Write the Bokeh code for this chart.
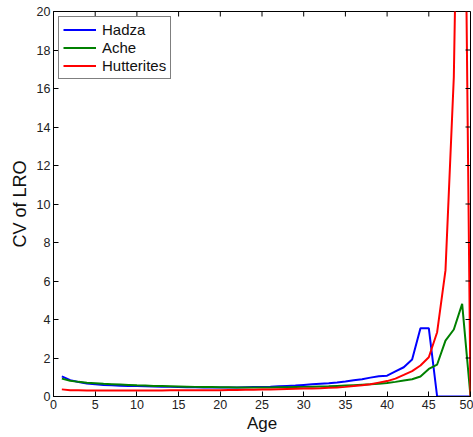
import math
from bokeh.plotting import figure
from bokeh.models import Range1d, Legend, LegendItem, FixedTicker
from bokeh.embed import file_html
from bokeh.resources import INLINE

ages = list(range(1, 51))
hadza = [1.05, 0.85, 0.75, 0.68, 0.63, 0.60, 0.58, 0.56, 0.55, 0.54,
         0.53, 0.52, 0.51, 0.50, 0.49, 0.48, 0.48, 0.47, 0.47, 0.47,
         0.47, 0.47, 0.48, 0.49, 0.50, 0.51, 0.53, 0.55, 0.57, 0.60,
         0.63, 0.66, 0.69, 0.73, 0.78, 0.84, 0.90, 0.98, 1.05, 1.08,
         1.30, 1.52, 1.92, 3.55, 3.55, 0.0, 0.0, 0.0, 0.0, 0.0]
ache = [0.93, 0.82, 0.76, 0.72, 0.69, 0.66, 0.64, 0.62, 0.60, 0.58,
        0.57, 0.55, 0.54, 0.53, 0.52, 0.51, 0.50, 0.49, 0.49, 0.48,
        0.48, 0.47, 0.47, 0.47, 0.47, 0.47, 0.48, 0.48, 0.49, 0.50,
        0.51, 0.52, 0.53, 0.55, 0.57, 0.59, 0.61, 0.63, 0.66, 0.70,
        0.76, 0.83, 0.90, 1.04, 1.43, 1.66, 2.90, 3.48, 4.81, 0.0]
hutterites = [0.37, 0.33, 0.32, 0.31, 0.31, 0.31, 0.31, 0.31, 0.31, 0.31,
              0.31, 0.31, 0.31, 0.32, 0.32, 0.32, 0.32, 0.33, 0.33, 0.33,
              0.34, 0.34, 0.35, 0.35, 0.36, 0.37, 0.38, 0.39, 0.40, 0.41,
              0.42, 0.43, 0.45, 0.47, 0.50, 0.54, 0.58, 0.64, 0.72, 0.80,
              0.93, 1.12, 1.32, 1.61, 2.04, 3.34, 6.55, 16.6, 42.0, 0.0]

x_ticks = list(range(0, 51, 5))
y_ticks = list(range(0, 21, 2))
X_MAX, Y_MAX = 50, 20

FONT = "Liberation Sans"

p = figure(width=473, height=437, output_backend="svg", toolbar_location=None,
           x_range=Range1d(0, X_MAX), y_range=Range1d(0, Y_MAX),
           min_border_left=53, min_border_right=3, min_border_top=11, min_border_bottom=41)
p.background_fill_color = "white"
p.border_fill_color = "white"
p.outline_line_color = "black"
p.outline_line_width = 1
p.grid.visible = False

series = [("Hadza", hadza, "#0000ff"), ("Ache", ache, "#008000"), ("Hutterites", hutterites, "#ff0000")]
items = []
for name, ys, col in series:
    r = p.line(ages, ys, line_color=col, line_width=2)
    items.append(LegendItem(label=name, renderers=[r]))

for ax in p.xaxis:
    ax.ticker = FixedTicker(ticks=x_ticks)
for ax in p.yaxis:
    ax.ticker = FixedTicker(ticks=y_ticks)
for ax in list(p.xaxis) + list(p.yaxis):
    ax.major_tick_in = 5
    ax.major_tick_out = 0
    ax.minor_tick_line_color = None
    ax.axis_line_color = "black"
    ax.major_label_text_font = FONT
    ax.major_label_text_font_size = "12.5px"
    ax.major_label_text_color = "#222222"
    ax.major_label_standoff = 3
    ax.axis_label_text_font = FONT
    ax.axis_label_text_font_style = "normal"
    ax.axis_label_text_color = "#111111"
p.xaxis.axis_label = "Age"
p.yaxis.axis_label = "CV of LRO"
p.xaxis.axis_label_text_font_size = "17px"
p.yaxis.axis_label_text_font_size = "18px"
p.xaxis.axis_label_standoff = 2
p.yaxis.axis_label_standoff = 4

# mirrored inward ticks on the top and right frame edges
p.ray(x=x_ticks, y=[Y_MAX] * len(x_ticks), length=5, length_units="screen",
      angle=-math.pi / 2, line_color="black", line_width=1)
p.ray(x=[X_MAX] * len(y_ticks), y=y_ticks, length=5, length_units="screen",
      angle=math.pi, line_color="black", line_width=1)

legend = Legend(items=items, location="top_left")
legend.border_line_color = "black"
legend.border_line_width = 1
legend.background_fill_color = "white"
legend.background_fill_alpha = 1
legend.label_text_font = FONT
legend.label_text_font_size = "15px"
legend.label_text_color = "#111111"
legend.glyph_width = 33
legend.glyph_height = 17
legend.label_height = 17
legend.spacing = 1
legend.padding = 4
legend.margin = 5
legend.label_standoff = 6
p.add_layout(legend)

open("out.html", "w").write(file_html(p, INLINE))
